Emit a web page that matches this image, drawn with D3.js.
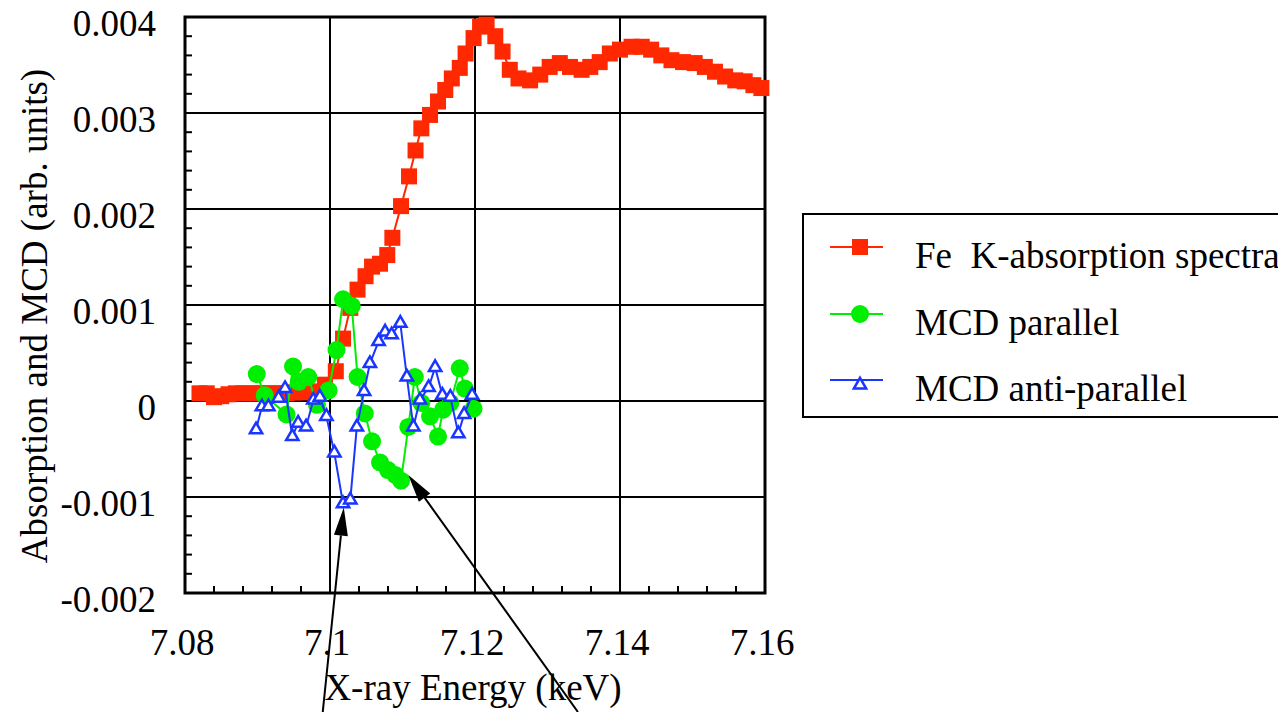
<!DOCTYPE html>
<html>
<head>
  <meta charset="UTF-8">
  <style>
    body { margin: 0; background: #fff; }
    svg text { font-family: "Liberation Serif", "Times New Roman", serif; fill: #000; }
  </style>
</head>
<body>
<svg></svg>
<script src="https://d3js.org/d3.v7.min.js"></script>
<script>

// Fe K-absorption spectra (red squares)
let absX = [7.082, 7.083, 7.084, 7.085, 7.086, 7.087, 7.088, 7.089, 7.090, 7.091, 7.092, 7.093, 7.094, 7.095, 7.096, 7.0975, 7.0993,
  7.1008, 7.1018, 7.1028, 7.1038, 7.1049, 7.1058, 7.1069, 7.1079, 7.1086, 7.1098, 7.1109, 7.1118, 7.1126, 7.1138, 7.1149, 7.1159,
  7.1168, 7.1179, 7.1187, 7.1198, 7.1207, 7.1216, 7.1228, 7.1238, 7.1248, 7.126, 7.1276, 7.129, 7.1303, 7.1317, 7.1331, 7.1347,
  7.1359, 7.1372, 7.1386, 7.14, 7.1416, 7.143, 7.1443, 7.1457, 7.1471, 7.1487, 7.1503, 7.1517, 7.1531, 7.1545, 7.1559, 7.1572,
  7.1584, 7.1595];
let absY = [0.00008, 0.00008, 0.00004, 0.00005, 0.00007, 0.00008, 0.00008, 0.00008, 0.00008, 0.00008, 0.00008, 0.00008, 0.00008, 0.00009, 0.00009, 0.0001, 0.00017,
  0.00031, 0.00065, 0.00097, 0.00116, 0.0013, 0.0014, 0.00143, 0.00152, 0.0017, 0.00203, 0.00234, 0.00261, 0.00284, 0.00298, 0.00312, 0.00324,
  0.00336, 0.00347, 0.00362, 0.00378, 0.0039, 0.00392, 0.0038, 0.00364, 0.00345, 0.00336, 0.00334, 0.0034, 0.00348, 0.00352, 0.00348, 0.00345,
  0.00348, 0.00353, 0.00362, 0.00366, 0.00369, 0.00369, 0.00366, 0.0036, 0.00355, 0.00353, 0.00352, 0.00348, 0.00343, 0.00338, 0.00334, 0.00333,
  0.00329, 0.00326];

// MCD parallel (green circles)
let parX = [7.0899, 7.0910, 7.0940, 7.0949, 7.0957, 7.0970, 7.0982, 7.0998, 7.1009, 7.1018, 7.1030, 7.1038, 7.1048, 7.1058,
  7.1069, 7.1080, 7.1090, 7.1098, 7.1108, 7.1117, 7.1126, 7.1138, 7.1149, 7.1156, 7.1166, 7.1179, 7.1186, 7.1198];
let parY = [0.00028, 0.00006, -0.00014, 0.00036, 0.0002, 0.00025, -0.00004, 0.00011, 0.00053, 0.00106, 0.00099, 0.00025, -0.00013, -0.00042,
  -0.00064, -0.00072, -0.00077, -0.00083, -0.00027, 0.00025, -0.00002, -0.00016, -0.00037, -0.00009, -0.00002, 0.00034, 0.00013, -0.00008];

// MCD anti-parallel (blue open triangles)
let antiX = [7.0898, 7.0906, 7.0915, 7.0929, 7.0938, 7.0948, 7.0956, 7.0967, 7.0977, 7.0986, 7.0995, 7.1006, 7.1018, 7.1028,
  7.1037, 7.1047, 7.1055, 7.1067, 7.1076, 7.1085, 7.1097, 7.1106, 7.1115, 7.1124, 7.1136, 7.1145, 7.1155, 7.1166, 7.1177,
  7.1185, 7.1196];
let antiY = [-0.0003, -0.00006, -0.00006, 0.00003, 0.00013, -0.00037, -0.00023, -0.00027, 0.00001, 0.00004, -0.00016, -0.00054, -0.00107, -0.00103,
  -0.00027, 0.0001, 0.00039, 0.00062, 0.00072, 0.00069, 0.00081, 0.00025, -0.00027, 0.00001, 0.00014, 0.00035, 0.00006, 0.00004, -0.00034,
  -0.00014, 0.00006];

let xTicks = [7.08, 7.1, 7.12, 7.14, 7.16];
let xTickLabels = ["7.08", "7.1", "7.12", "7.14", "7.16"];
let yTicks = [-0.002, -0.001, 0, 0.001, 0.002, 0.003, 0.004];
let yTickLabels = ["-0.002", "-0.001", "0", "0.001", "0.002", "0.003", "0.004"];

let legendLabels = ["Fe  K-absorption spectra", "MCD parallel", "MCD anti-parallel"];

// arrows: [tail x, tail y, tip x, tip y] in data units
let arrows = [
  [7.0990, -0.00324, 7.1019, -0.00111],
  [7.1342, -0.00324, 7.1108, -0.00077]
];

let width = 1278;
let height = 712;

let serif = "'Liberation Serif', 'Times New Roman', serif";

let svg = d3.select("svg")
    .attr("width", width)
    .attr("height", height)
    .attr("font-family", serif);

let pLeft = 185, pRight = 765, pTop = 17, pBottom = 593;

let x = d3.scaleLinear().domain([7.08, 7.16]).range([pLeft, pRight]);
let y = d3.scaleLinear().domain([-0.002, 0.004]).range([pBottom, pTop]);

let red = "#ff2800";
let green = "#00ee00";
let blue = "#1a35ff";

// grid lines
svg.append("g")
  .selectAll("line")
  .data(xTicks.slice(1, -1))
  .enter()
  .append("line")
    .attr("x1", d => x(d)).attr("x2", d => x(d))
    .attr("y1", pTop).attr("y2", pBottom)
    .attr("stroke", "#000").attr("stroke-width", 2);

svg.append("g")
  .selectAll("line")
  .data(yTicks.slice(1, -1))
  .enter()
  .append("line")
    .attr("x1", pLeft).attr("x2", pRight)
    .attr("y1", d => y(d)).attr("y2", d => y(d))
    .attr("stroke", "#000").attr("stroke-width", 2);

// minor ticks, 5 subdivisions
let xMinor = d3.range(0, 21).map(i => 7.08 + i * 0.004).filter((d, i) => i % 5 != 0);
let yMinor = d3.range(0, 31).map(i => -0.002 + i * 0.0002).filter((d, i) => i % 5 != 0);

svg.append("g")
  .selectAll("line")
  .data(xMinor)
  .enter()
  .append("line")
    .attr("x1", d => x(d)).attr("x2", d => x(d))
    .attr("y1", pBottom).attr("y2", pBottom - 7)
    .attr("stroke", "#000").attr("stroke-width", 2);

svg.append("g")
  .selectAll("line")
  .data(yMinor)
  .enter()
  .append("line")
    .attr("x1", pLeft).attr("x2", pLeft + 7)
    .attr("y1", d => y(d)).attr("y2", d => y(d))
    .attr("stroke", "#000").attr("stroke-width", 2);

// frame
svg.append("rect")
  .attr("x", pLeft).attr("y", pTop)
  .attr("width", pRight - pLeft).attr("height", pBottom - pTop)
  .attr("fill", "none").attr("stroke", "#000").attr("stroke-width", 3);

// tick labels
svg.append("g")
  .selectAll("text")
  .data(yTicks)
  .enter()
  .append("text")
    .attr("x", 156)
    .attr("y", d => y(d) + 19)
    .attr("text-anchor", "end")
    .attr("font-family", serif)
    .style("font-size", "37px")
    .text((d, i) => yTickLabels[i]);

svg.append("g")
  .selectAll("text")
  .data(xTicks)
  .enter()
  .append("text")
    .attr("x", d => x(d) - 3)
    .attr("y", 655)
    .attr("text-anchor", "middle")
    .attr("font-family", serif)
    .style("font-size", "37px")
    .text((d, i) => xTickLabels[i]);

// axis titles
svg.append("text")
  .attr("x", 473).attr("y", 700)
  .attr("text-anchor", "middle")
  .attr("font-family", serif)
  .style("font-size", "37px")
  .text("X-ray Energy (keV)");

svg.append("text")
  .attr("transform", "translate(47,316) rotate(-90)")
  .attr("text-anchor", "middle")
  .attr("font-family", serif)
  .style("font-size", "37px")
  .text("Absorption and MCD (arb. units)");

// series
let line = d3.line().x(d => x(d[0])).y(d => y(d[1]));
let absData = absX.map((d, i) => [d, absY[i]]);
let parData = parX.map((d, i) => [d, parY[i]]);
let antiData = antiX.map((d, i) => [d, antiY[i]]);

svg.append("path").datum(absData)
  .attr("d", line).attr("fill", "none").attr("stroke", red).attr("stroke-width", 2);
svg.append("g").selectAll("rect").data(absData).enter()
  .append("rect")
    .attr("x", d => x(d[0]) - 8).attr("y", d => y(d[1]) - 8)
    .attr("width", 16).attr("height", 16)
    .attr("fill", red);

svg.append("path").datum(parData)
  .attr("d", line).attr("fill", "none").attr("stroke", green).attr("stroke-width", 2);
svg.append("g").selectAll("circle").data(parData).enter()
  .append("circle")
    .attr("cx", d => x(d[0])).attr("cy", d => y(d[1]))
    .attr("r", 9)
    .attr("fill", green);

let tri = d3.symbol().type(d3.symbolTriangle).size(66);
svg.append("path").datum(antiData)
  .attr("d", line).attr("fill", "none").attr("stroke", blue).attr("stroke-width", 2);
svg.append("g").selectAll("path").data(antiData).enter()
  .append("path")
    .attr("d", tri)
    .attr("transform", d => "translate(" + x(d[0]) + "," + y(d[1]) + ")")
    .attr("fill", "#fff")
    .attr("stroke", blue)
    .attr("stroke-width", 2.5);

// arrows
arrows.forEach(a => {
  let x0 = x(a[0]), y0 = y(a[1]), x1 = x(a[2]), y1 = y(a[3]);
  let len = Math.hypot(x1 - x0, y1 - y0);
  let ux = (x1 - x0) / len, uy = (y1 - y0) / len;
  let hl = 28, hw = 7;
  let bx = x1 - ux * hl, by = y1 - uy * hl;
  svg.append("line")
    .attr("x1", x0).attr("y1", y0).attr("x2", bx).attr("y2", by)
    .attr("stroke", "#000").attr("stroke-width", 2);
  svg.append("path")
    .attr("d", "M" + x1 + "," + y1 + " L" + (bx - uy * hw) + "," + (by + ux * hw) +
               " L" + (bx + uy * hw) + "," + (by - ux * hw) + " Z")
    .attr("fill", "#000");
});

// legend
let lg = svg.append("g");
lg.append("rect")
  .attr("x", 803).attr("y", 214)
  .attr("width", 500).attr("height", 203)
  .attr("fill", "#fff").attr("stroke", "#000").attr("stroke-width", 2);

let rowY = [247, 314, 380];
let colors = [red, green, blue];
legendLabels.forEach((label, i) => {
  lg.append("line")
    .attr("x1", 830).attr("x2", 883)
    .attr("y1", rowY[i]).attr("y2", rowY[i])
    .attr("stroke", colors[i]).attr("stroke-width", 2);
  if (i == 0) {
    lg.append("rect").attr("x", 852).attr("y", rowY[i] - 8)
      .attr("width", 16).attr("height", 16).attr("fill", red);
  } else if (i == 1) {
    lg.append("circle").attr("cx", 860).attr("cy", rowY[i]).attr("r", 9).attr("fill", green);
  } else {
    lg.append("path").attr("d", tri)
      .attr("transform", "translate(860," + (rowY[i] + 5) + ")")
      .attr("fill", "#fff").attr("stroke", blue).attr("stroke-width", 2.5);
  }
  lg.append("text")
    .attr("x", 915).attr("y", rowY[i] + 21)
    .attr("font-family", serif)
    .style("font-size", "37px")
    .style("white-space", "pre")
    .text(label);
});

</script>
</body>
</html>
